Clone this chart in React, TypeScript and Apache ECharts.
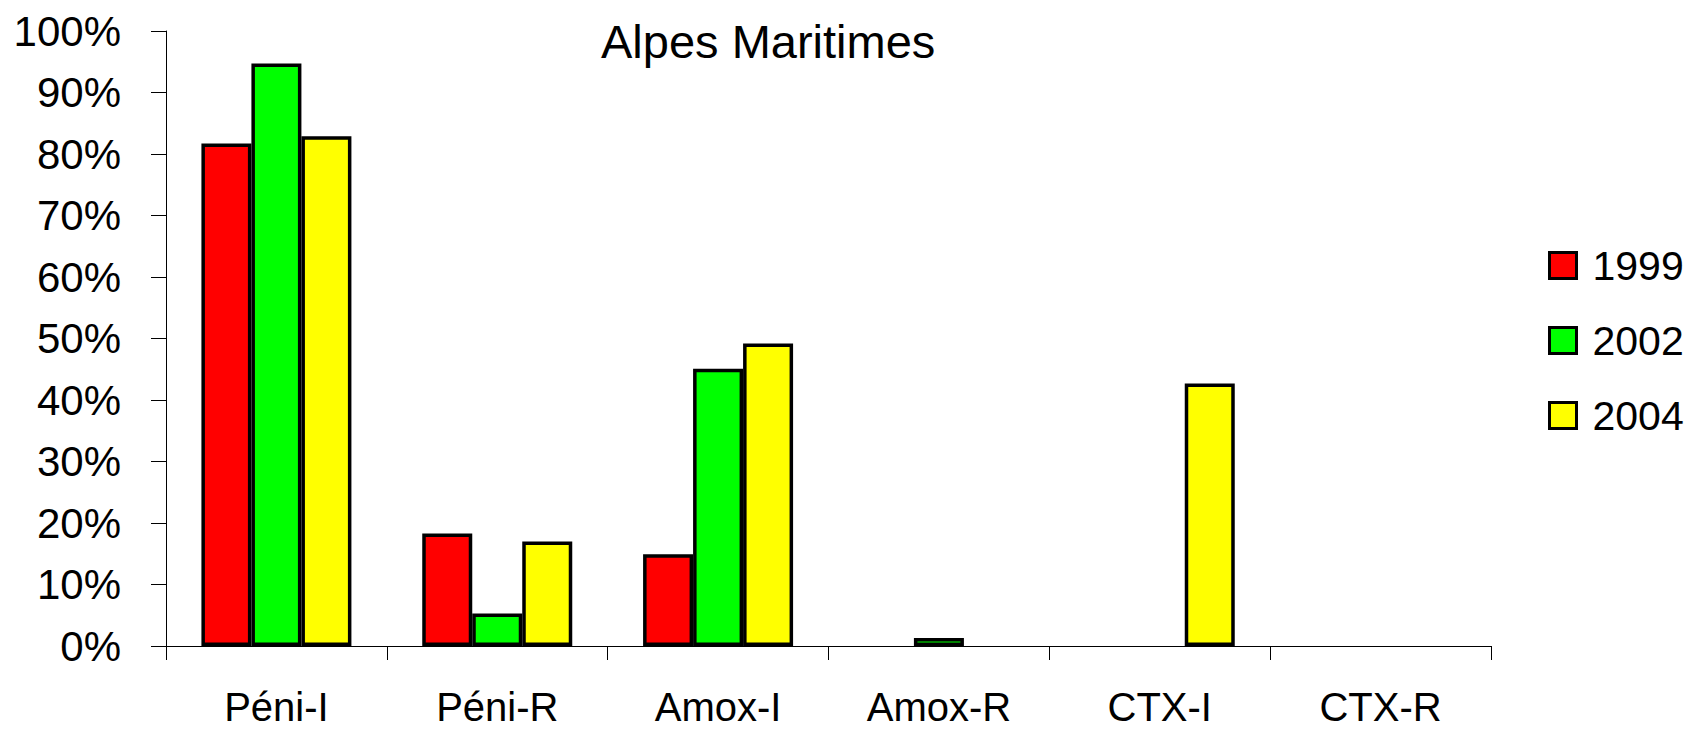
import React, { useEffect, useRef } from "react";
import * as echarts from "echarts";

const categories = ["Péni-I", "Péni-R", "Amox-I", "Amox-R", "CTX-I", "CTX-R"];
const seriesNames = ["1999", "2002", "2004"];
const values1999: (number | null)[] = [81.7, 18.3, 14.9, null, null, null];
const values2002: (number | null)[] = [94.7, 5.3, 45.1, 1.3, null, null];
const values2004: (number | null)[] = [82.9, 17.0, 49.2, null, 42.7, null];
const colors = ["#ff0000", "#00ff00", "#ffff00"];
const title = "Alpes Maritimes";

const FONT = "'Liberation Sans', Arial, sans-serif";

export default function App() {
  const ref = useRef<HTMLDivElement>(null);
  useEffect(() => {
    if (!ref.current) return;
    const chart = echarts.init(ref.current, undefined, { renderer: "svg" });
    const allValues = [values1999, values2002, values2004];
    chart.setOption({
      animation: false,
      backgroundColor: "#ffffff",
      textStyle: { fontFamily: FONT },
      title: {
        text: title,
        left: 601,
        top: 18,
        padding: 0,
        textStyle: { fontFamily: FONT, fontSize: 47, fontWeight: "normal", color: "#000" },
      },
      legend: {
        orient: "vertical",
        left: 1548,
        top: 245,
        padding: 0,
        itemWidth: 27,
        itemHeight: 26,
        itemGap: 34,
        icon: "rect",
        itemStyle: { borderColor: "#000", borderWidth: 3 },
        textStyle: { fontFamily: FONT, fontSize: 41, color: "#000", padding: [0, 0, 0, 11] },
        data: seriesNames,
      },
      grid: { left: 166, right: 203, top: 31, bottom: 85, containLabel: false },
      xAxis: {
        type: "category",
        data: categories,
        axisLine: { show: true, lineStyle: { color: "#000", width: 1 } },
        axisTick: { show: true, length: 14, lineStyle: { color: "#000", width: 1 } },
        axisLabel: {
          fontFamily: FONT,
          fontSize: 40,
          lineHeight: 34,
          color: "#000",
          margin: 44,
        },
        splitLine: { show: false },
      },
      yAxis: {
        type: "value",
        min: 0,
        max: 100,
        interval: 10,
        axisLine: { show: true, lineStyle: { color: "#000", width: 1 } },
        axisTick: { show: true, length: 15, lineStyle: { color: "#000", width: 1 } },
        axisLabel: {
          fontFamily: FONT,
          fontSize: 42,
          color: "#000",
          margin: 45,
          formatter: (v: number) => `${Math.round(v)}%`,
        },
        splitLine: { show: false },
      },
      series: seriesNames.map((name, i) => ({
        name,
        type: "bar",
        data: allValues[i],
        barWidth: 50,
        barGap: "0%",
        itemStyle: { color: colors[i], borderColor: "#000", borderWidth: 3.5 },
      })),
    });
    return () => chart.dispose();
  }, []);
  return (
    <div
      ref={ref}
      style={{ position: "fixed", left: 0, top: 0, width: 1694, height: 731 }}
    />
  );
}
